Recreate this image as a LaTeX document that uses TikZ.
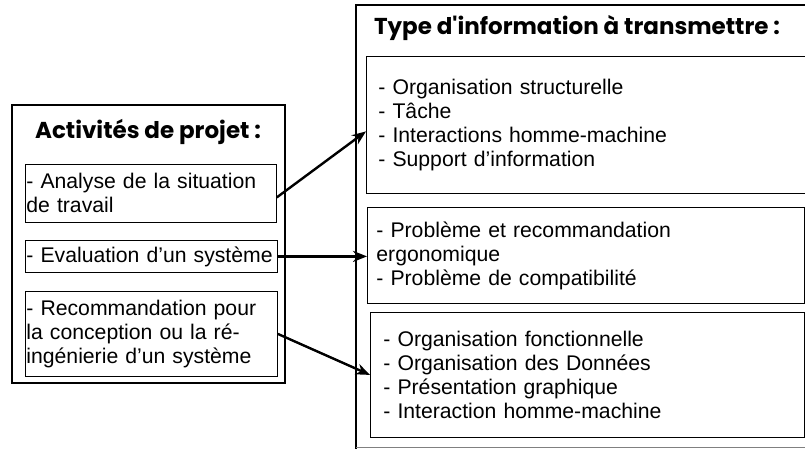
\documentclass[tikz,border=0pt]{standalone}
\usepackage{fontspec}
\setmainfont{Liberation Sans}
\newfontfamily\titlefont{Poppins}
\usetikzlibrary{arrows.meta, positioning}

\begin{document}
\begin{tikzpicture}[x=1pt, y=-1pt,
  cadre/.style={line width=2.8pt},
  boite/.style={draw, line width=0.8pt, anchor=north west, align=left, inner ysep=0pt,
    font=\fontsize{21.2}{24}\selectfont},
  titre/.style={font=\titlefont\bfseries\fontsize{23}{26}\selectfont},
  fleche/.style={-{Stealth[length=14pt, width=11pt]}, line width=2.4pt}]
  \useasboundingbox (0,0) rectangle (805,449);
  \clip (0,0) rectangle (805,449);
  % Activites de projet
  \draw[cadre] (12,105) rectangle (285,383);
  \node[titre] (titreA) at (148,132) {Activités de projet :};
  \node[boite, minimum width=251pt, minimum height=58pt, text width=249pt, inner xsep=1pt]
    (analyse) at (25,164) {- Analyse de la situation\\de travail};
  \node[boite, minimum width=252pt, minimum height=32pt, text width=250pt, inner xsep=1pt]
    (evaluation) at (25,240) {- Evaluation d’un système};
  \node[boite, minimum width=252pt, minimum height=85pt, text width=250pt, inner xsep=1pt]
    (reco) at (25,291) {- Recommandation pour\\la conception ou la ré-\\ingénierie d’un système};
  % Type d'information
  \draw[cadre] (356,449) |- (830,5);
  \draw[gray, line width=1pt] (356,447.5) -- (805,447.5);
  \node[titre] (titreT) at (577,28) {Type d'information à transmettre :};
  \node[boite, minimum width=464pt, minimum height=137pt, text width=440pt, inner xsep=12pt]
    (structure) at (366,56) {- Organisation structurelle\\- Tâche\\- Interactions homme-machine\\- Support d’information};
  \node[boite, minimum width=437pt, minimum height=96pt, text width=419pt, inner xsep=9pt]
    (probleme) at (367,207) {- Problème et recommandation\\ergonomique\\- Problème de compatibilité};
  \node[boite, minimum width=434pt, minimum height=125pt, text width=408pt, inner xsep=13pt]
    (fonction) at (370,312) {- Organisation fonctionnelle\\- Organisation des Données\\- Présentation graphique\\- Interaction homme-machine};
  % fleches
  \draw[fleche] ([yshift=-4pt]analyse.east) -- ([yshift=-6.5pt]structure.west);
  \draw[fleche] (evaluation.east) -- (evaluation.east -| probleme.west);
  \draw[fleche] (reco.east) -- (fonction.west);
\end{tikzpicture}
\end{document}
